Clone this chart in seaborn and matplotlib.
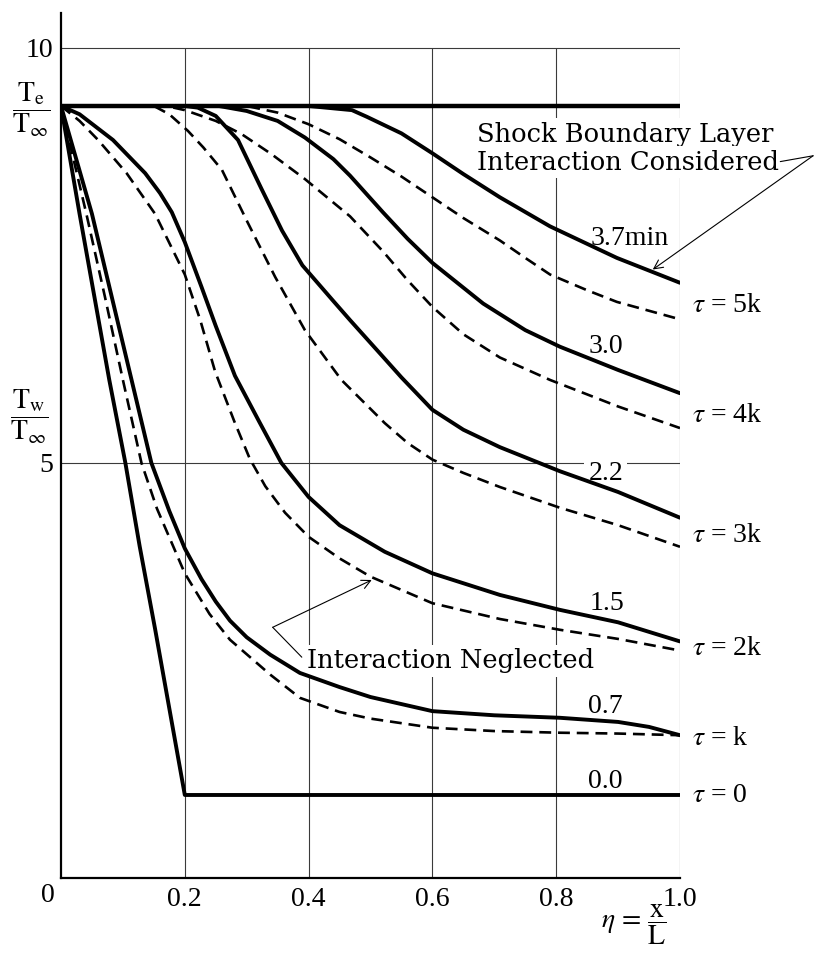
import matplotlib
matplotlib.use("Agg")
import matplotlib.pyplot as plt
import seaborn as sns

# ---------------- data ----------------
TE_LEVEL = 9.3
eta_te = [0.0, 1.0]
T_te = [TE_LEVEL, TE_LEVEL]

# tau = 0  (0.0)
eta_0 = [0, 0.03, 0.054, 0.078, 0.104, 0.127, 0.152, 0.176, 0.2, 1.0]
T_0 = [9.3, 8.0, 7.0, 6.0, 5.0, 4.0, 3.0, 2.0, 1.0, 1.0]

# tau = k  (0.7)
eta_k_s = [0, 0.05, 0.082, 0.114, 0.146, 0.175, 0.2, 0.227, 0.25, 0.273, 0.3, 0.338, 0.386, 0.45, 0.5, 0.6, 0.7, 0.806, 0.9, 0.95, 1.0]
T_k_s = [9.3, 8.0, 7.0, 6.0, 5.0, 4.42, 3.97, 3.6, 3.33, 3.1, 2.9, 2.69, 2.47, 2.3, 2.18, 2.01, 1.96, 1.93, 1.88, 1.82, 1.72]
eta_k_d = [0, 0.041, 0.071, 0.1, 0.13, 0.155, 0.181, 0.2, 0.24, 0.273, 0.338, 0.386, 0.45, 0.5, 0.6, 0.7, 0.806, 0.9, 1.0]
T_k_d = [9.3, 8.0, 7.0, 6.0, 5.0, 4.45, 4.0, 3.67, 3.18, 2.87, 2.45, 2.17, 2.0, 1.92, 1.81, 1.77, 1.75, 1.74, 1.72]

# tau = 2k  (1.5)
eta_2k_s = [0, 0.03, 0.084, 0.136, 0.16, 0.179, 0.2, 0.227, 0.25, 0.281, 0.32, 0.356, 0.4, 0.45, 0.523, 0.6, 0.709, 0.806, 0.9, 1.0]
T_2k_s = [9.3, 9.2, 8.89, 8.49, 8.25, 8.02, 7.66, 7.12, 6.65, 6.05, 5.5, 5.0, 4.59, 4.25, 3.93, 3.67, 3.41, 3.23, 3.08, 2.85]
eta_2k_d = [0, 0.03, 0.06, 0.106, 0.152, 0.2, 0.225, 0.249, 0.28, 0.305, 0.33, 0.362, 0.4, 0.45, 0.5, 0.6, 0.709, 0.806, 0.9, 1.0]
T_2k_d = [9.3, 9.12, 8.89, 8.49, 8.0, 7.27, 6.72, 6.1, 5.5, 5.05, 4.72, 4.4, 4.11, 3.85, 3.63, 3.31, 3.12, 2.99, 2.88, 2.74]

# tau = 3k  (2.2)
eta_3k_s = [0, 0.2, 0.221, 0.25, 0.286, 0.324, 0.357, 0.39, 0.44, 0.467, 0.52, 0.55, 0.6, 0.65, 0.709, 0.806, 0.9, 1.0]
T_3k_s = [9.3, 9.3, 9.28, 9.18, 8.89, 8.3, 7.8, 7.38, 6.95, 6.72, 6.28, 6.03, 5.64, 5.4, 5.19, 4.9, 4.65, 4.34]
eta_3k_d = [0, 0.15, 0.175, 0.205, 0.23, 0.26, 0.302, 0.346, 0.394, 0.453, 0.523, 0.56, 0.6, 0.65, 0.709, 0.806, 0.9, 1.0]
T_3k_d = [9.3, 9.3, 9.2, 9.0, 8.8, 8.53, 7.89, 7.24, 6.6, 6.0, 5.48, 5.24, 5.04, 4.88, 4.71, 4.46, 4.25, 3.99]

# tau = 4k  (3.0)
eta_4k_s = [0, 0.255, 0.3, 0.35, 0.394, 0.44, 0.467, 0.52, 0.56, 0.6, 0.682, 0.75, 0.806, 0.9, 1.0]
T_4k_s = [9.3, 9.3, 9.24, 9.12, 8.92, 8.66, 8.46, 8.02, 7.7, 7.41, 6.92, 6.6, 6.4, 6.12, 5.84]
eta_4k_d = [0, 0.17, 0.2, 0.25, 0.292, 0.34, 0.394, 0.467, 0.52, 0.56, 0.6, 0.65, 0.709, 0.79, 0.9, 1.0]
T_4k_d = [9.3, 9.3, 9.25, 9.12, 8.96, 8.72, 8.42, 7.97, 7.55, 7.2, 6.88, 6.55, 6.27, 6.0, 5.68, 5.42]

# tau = 5k  (3.7 min)
eta_5k_s = [0, 0.40, 0.47, 0.494, 0.55, 0.6, 0.65, 0.709, 0.79, 0.898, 1.0]
T_5k_s = [9.3, 9.3, 9.25, 9.17, 8.97, 8.73, 8.48, 8.2, 7.85, 7.47, 7.17]
eta_5k_d = [0, 0.3, 0.35, 0.4, 0.45, 0.5, 0.55, 0.6, 0.65, 0.709, 0.75, 0.79, 0.85, 0.898, 1.0]
T_5k_d = [9.3, 9.3, 9.22, 9.08, 8.9, 8.68, 8.45, 8.2, 7.95, 7.68, 7.47, 7.27, 7.08, 6.94, 6.73]

time_labels = ["0.0", "0.7", "1.5", "2.2", "3.0", "3.7min"]
time_label_eta = [0.879, 0.879, 0.882, 0.880, 0.880, 0.919]
time_label_T = [1.08, 1.99, 3.23, 4.80, 6.33, 7.63]
tau_labels = ["0", "k", "2k", "3k", "4k", "5k"]
tau_label_T = [0.92, 1.60, 2.69, 4.05, 5.49, 6.82]

x_ticks = [0.2, 0.4, 0.6, 0.8, 1.0]
x_ticklabels = ["0.2", "0.4", "0.6", "0.8", "1.0"]

# ---------------- style ----------------
sns.set_style("white")
plt.rcParams["font.family"] = ["Liberation Serif", "DejaVu Serif"]
plt.rcParams["mathtext.fontset"] = "stix"
for k in ["text.color", "axes.labelcolor", "xtick.color", "ytick.color"]:
    plt.rcParams[k] = "black"

NUM = dict(family=["Liberation Serif", "DejaVu Serif"], size=20, color="black")
WORD = dict(family=["DejaVu Serif"], size=18.5, color="black")

fig = plt.figure(figsize=(8.17, 9.57), dpi=100)
W, H = 817, 957
ax = fig.add_axes([61 / W, (H - 878) / H, 619 / W, 865 / H])
ax.set_xlim(0, 1.0)
ax.set_ylim(0, 10.42)

# grid
GRID = dict(color="#3a3a3a", lw=0.8, zorder=1)
for xv in x_ticks:
    ax.plot([xv, xv], [0, 10], **GRID)
for yv in [5, 10]:
    ax.plot([0, 1.0], [yv, yv], **GRID)

# curves
SOLID = dict(color="black", lw=2.8, zorder=3, estimator=None, sort=False, legend=False)
DASH = dict(color="black", lw=1.9, linestyle=(0, (4.5, 2.6)), zorder=3,
            estimator=None, sort=False, legend=False)

sns.lineplot(x=eta_te, y=T_te, ax=ax, color="black", lw=3.2, zorder=3,
             estimator=None, sort=False, legend=False)
sns.lineplot(x=eta_0, y=T_0, ax=ax, **SOLID)
for ex, ty in [(eta_k_s, T_k_s), (eta_2k_s, T_2k_s), (eta_3k_s, T_3k_s),
               (eta_4k_s, T_4k_s), (eta_5k_s, T_5k_s)]:
    sns.lineplot(x=ex, y=ty, ax=ax, **SOLID)
for ex, ty in [(eta_k_d, T_k_d), (eta_2k_d, T_2k_d), (eta_3k_d, T_3k_d),
               (eta_4k_d, T_4k_d), (eta_5k_d, T_5k_d)]:
    sns.lineplot(x=ex, y=ty, ax=ax, **DASH)

# spines and ticks
for s in ["top", "right"]:
    ax.spines[s].set_visible(False)
for s in ["left", "bottom"]:
    ax.spines[s].set_linewidth(1.6)
    ax.spines[s].set_color("black")

ax.set_xticks(x_ticks)
ax.set_xticklabels(x_ticklabels, **NUM)
ax.tick_params(axis="x", length=0, pad=6.5)
ax.set_yticks(range(0, 11))
ax.set_yticklabels(["" if v not in (5, 10) else str(v) for v in range(0, 11)], **NUM)
ax.tick_params(axis="y", direction="in", length=8.5, width=0.9, pad=5.5, color="black")
ax.set_xlabel("")
ax.set_ylabel("")

# origin label
ax.text(-13 / 619, -18 / 865, "0", transform=ax.transAxes, ha="center", va="center",
        clip_on=False, **NUM)

# axis quantity labels
ax.text(-30 / 619, (878 - 110) / 865, r"$\dfrac{\mathrm{T_e}}{\mathrm{T_\infty}}$",
        transform=ax.transAxes, ha="center", va="center", fontsize=20, color="black",
        clip_on=False)
ax.text(-32 / 619, (878 - 417) / 865, r"$\dfrac{\mathrm{T_w}}{\mathrm{T_\infty}}$",
        transform=ax.transAxes, ha="center", va="center", fontsize=20, color="black",
        clip_on=False)
ax.text(0.926, -0.56, r"$\eta\,=\,\dfrac{\mathrm{x}}{\mathrm{L}}$", ha="center",
        va="center", fontsize=20, color="black", clip_on=False)

# time labels
for lab, ex, ty in zip(time_labels, time_label_eta, time_label_T):
    kw = {}
    if lab == "2.2":
        kw["bbox"] = dict(facecolor="white", edgecolor="none", pad=3)
    ax.text(ex, ty, lab, ha="center", va="baseline", zorder=2, clip_on=False, **NUM, **kw)

# tau labels
for lab, ty in zip(tau_labels, tau_label_T):
    ax.text(1.019, ty, r"$\tau$ = " + lab, ha="left", va="baseline", clip_on=False, **NUM)

# annotations
BOX = dict(facecolor="white", edgecolor="none", pad=2.5)
ax.text(0.672, 8.87, "Shock Boundary Layer", ha="left", va="baseline", zorder=2,
        bbox=BOX, clip_on=False, **WORD)
ax.text(0.672, 8.53, "Interaction Considered", ha="left", va="baseline", zorder=2,
        bbox=BOX, clip_on=False, **WORD)
ax.plot([1.162, 1.215], [8.63, 8.70], color="black", lw=0.8, clip_on=False)
ax.annotate("", xy=(0.956, 7.33), xytext=(1.215, 8.70), annotation_clip=False,
            arrowprops=dict(arrowstyle="->", lw=0.8, color="black", shrinkA=0,
                            shrinkB=0, mutation_scale=16))

ax.text(0.397, 2.525, "Interaction Neglected", ha="left", va="baseline", zorder=2,
        bbox=BOX, clip_on=False, **WORD)
ax.plot([0.389, 0.342], [2.66, 3.02], color="black", lw=0.8, zorder=2)
ax.annotate("", xy=(0.502, 3.59), xytext=(0.342, 3.02),
            arrowprops=dict(arrowstyle="->", lw=0.8, color="black", shrinkA=0,
                            shrinkB=0, mutation_scale=16))

fig.savefig("out.png", dpi=100, facecolor="white")
